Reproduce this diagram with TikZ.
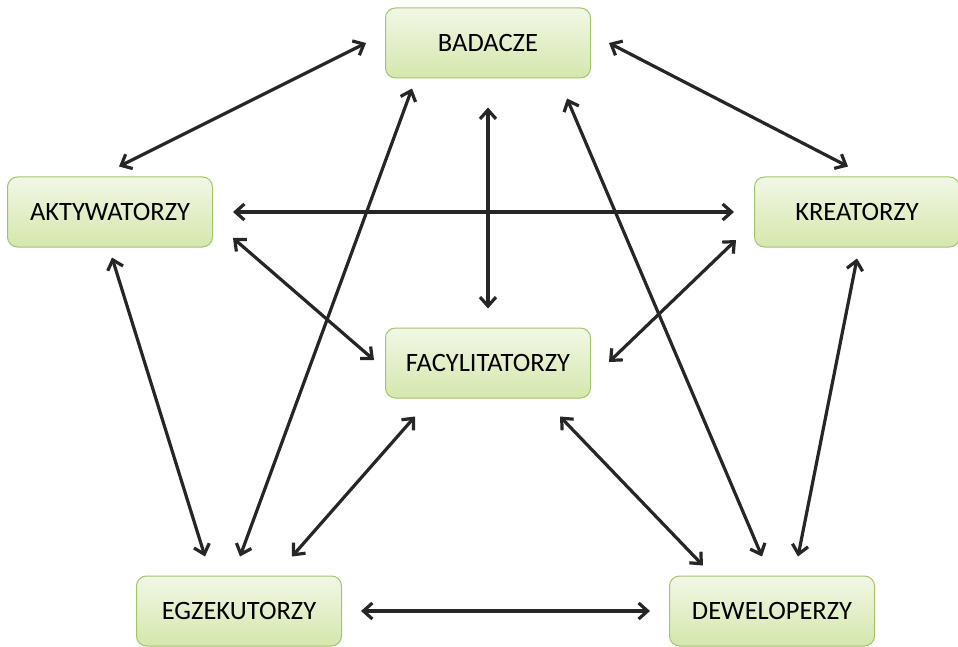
\documentclass[tikz,border=0pt]{standalone}
\usepackage{fontspec}
\setmainfont{Carlito}
\usepackage{tikz}
\usetikzlibrary{positioning,arrows.meta,calc}
\definecolor{rolefill}{HTML}{F2F7E6}
\definecolor{roleshade}{HTML}{D4E7AC}
\definecolor{roleedge}{HTML}{A4C46A}
\definecolor{linkcol}{HTML}{262626}

\tikzset{
    role/.style={rectangle, rounded corners=10pt, draw=roleedge, line width=1pt,
        top color=rolefill, bottom color=roleshade,
        minimum width=205pt, minimum height=70pt,
        font=\fontsize{26.5}{30}\selectfont},
    link/.style={draw=linkcol, line width=3.2pt,
        {Straight Barb[length=9pt,width=16pt]}-{Straight Barb[length=9pt,width=16pt]}}
}

\begin{document}
\begin{tikzpicture}[x=1pt,y=-1pt]
        \useasboundingbox (0,0) rectangle (958,647);

        % roles
        \foreach \n/\x/\y/\t in {bad/488/43/BADACZE, akt/110/212/AKTYWATORZY, kre/857/212/KREATORZY,
            fac/488/363/FACYLITATORZY, egz/239/611/EGZEKUTORZY, dew/772/611/DEWELOPERZY}
        {
            \node[role] (\n) at (\x,\y) {\t};
        }

        % links from BADACZE
        \draw[link] ($(bad.west)+(-19,0)$) -- ($(akt.north)+(9,-10)$);
        \draw[link] ($(bad.east)+(18,0)$) -- ($(kre.north)+(-9,-10)$);
        \draw[link] ($(bad.south)+(0,29)$) -- ($(fac.north)+(0,-19)$);
        \draw[link] ($(bad.south)+(-76,10)$) -- ($(egz.north)+(1,-19)$);
        \draw[link] ($(bad.south)+(79,20)$) -- ($(dew.north)+(-10,-19)$);

        % links from AKTYWATORZY
        \draw[link] ($(akt.east)+(20,0)$) -- ($(kre.west)+(-20,0)$);
        \draw[link] ($(akt.east)+(20,26)$) -- ($(fac.west)+(-11,-3)$);
        \draw[link] ($(akt.south)+(2,10)$) -- ($(egz.north)+(-34,-19)$);

        % links from KREATORZY
        \draw[link] ($(kre.west)+(-18,28)$) -- ($(fac.east)+(18,-1)$);
        \draw[link] ($(kre.south)+(0,11)$) -- ($(dew.north)+(26,-19)$);

        % links from FACYLITATORZY
        \draw[link] ($(fac.south)+(-73,18)$) -- ($(egz.north)+(53,-19)$);
        \draw[link] ($(fac.south)+(72,18)$) -- ($(dew.north)+(-69,-10)$);

        % bottom row
        \draw[link] ($(egz.east)+(19,0)$) -- ($(dew.west)+(-19,0)$);
\end{tikzpicture}
\end{document}
